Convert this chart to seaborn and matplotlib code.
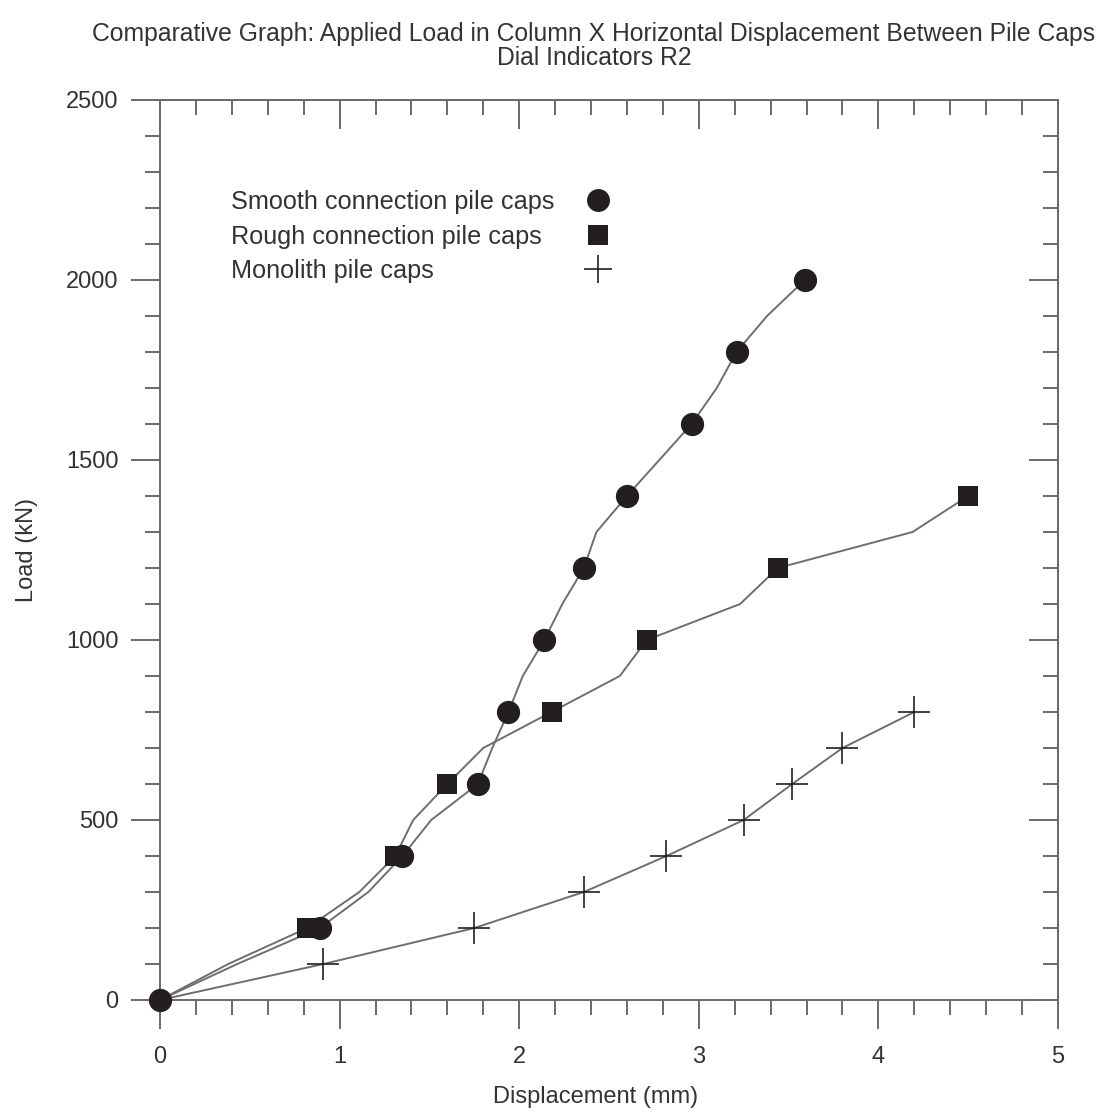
import numpy as np
import seaborn as sns
import pandas as pd
import matplotlib.pyplot as plt
from matplotlib.lines import Line2D
from matplotlib.ticker import MultipleLocator

# data (displacement in mm, load in kN)
smooth_disp = [0, 0.43, 0.89, 1.16, 1.35, 1.51, 1.77, 1.85, 1.94, 2.02, 2.14,
               2.24, 2.36, 2.43, 2.60, 2.78, 2.96, 3.10, 3.21, 3.38, 3.59]
smooth_load = [0, 100, 200, 300, 400, 500, 600, 700, 800, 900, 1000,
               1100, 1200, 1300, 1400, 1500, 1600, 1700, 1800, 1900, 2000]

rough_disp = [0, 0.38, 0.82, 1.11, 1.31, 1.41, 1.60, 1.80, 2.18, 2.56, 2.71,
              3.23, 3.44, 4.19, 4.50]
rough_load = [0, 100, 200, 300, 400, 500, 600, 700, 800, 900, 1000,
              1100, 1200, 1300, 1400]

mono_disp = [0, 0.91, 1.75, 2.36, 2.82, 3.25, 3.52, 3.80, 4.20]
mono_load = [0, 100, 200, 300, 400, 500, 600, 700, 800]

labels = ["Smooth connection pile caps", "Rough connection pile caps", "Monolith pile caps"]
title = ("Comparative Graph: Applied Load in Column X Horizontal Displacement Between Pile Caps\n"
         "Dial Indicators R2")

LINE = "#6e6e6e"
MARK = "#231f20"
AXC = "#6a6a6a"
TXT = "#333333"

sns.set_theme(style="ticks")
plt.rcParams["font.family"] = ["Liberation Sans", "DejaVu Sans"]

smooth = pd.DataFrame({"disp": smooth_disp, "load": smooth_load})
rough = pd.DataFrame({"disp": rough_disp, "load": rough_load})
mono = pd.DataFrame({"disp": mono_disp, "load": mono_load})

fig = plt.figure(figsize=(11.02, 11.2), dpi=100)
ax = fig.add_axes([160 / 1102, 1 - 1000 / 1120, 898 / 1102, 900 / 1120])

# lines through every vertex
for df in (smooth, rough, mono):
    sns.lineplot(data=df, x="disp", y="load", sort=False, estimator=None,
                 color=LINE, linewidth=1.4, ax=ax, zorder=2)

# markers (every 200 kN for smooth/rough, every point for monolith)
sns.scatterplot(data=mono.iloc[1:], x="disp", y="load", marker="+", s=540,
                color=MARK, linewidth=1.2, ax=ax, zorder=3)
sns.scatterplot(data=rough.iloc[::2].iloc[1:], x="disp", y="load", marker="s", s=200,
                color=MARK, linewidth=0, ax=ax, zorder=3)
sns.scatterplot(data=smooth.iloc[::2], x="disp", y="load", marker="o", s=280,
                color=MARK, linewidth=0, ax=ax, zorder=4, clip_on=False)

ax.set_xlim(0, 5)
ax.set_ylim(0, 2500)
ax.xaxis.set_major_locator(MultipleLocator(1))
ax.xaxis.set_minor_locator(MultipleLocator(0.2))
ax.yaxis.set_major_locator(MultipleLocator(500))
ax.yaxis.set_minor_locator(MultipleLocator(100))

ax.tick_params(which="major", direction="out", length=21, width=1.4, color=AXC,
               labelsize=17, labelcolor=TXT)
ax.tick_params(which="minor", direction="out", length=10.5, width=1.4, color=AXC)
ax.tick_params(axis="x", which="major", pad=12)
ax.tick_params(axis="y", which="major", pad=9)
for sp in ax.spines.values():
    sp.set_color(AXC)
    sp.set_linewidth(1.4)

# inward ticks on top and right
top = ax.secondary_xaxis("top")
right = ax.secondary_yaxis("right")
for sec, axis in ((top, top.xaxis), (right, right.yaxis)):
    step_major, step_minor = (1, 0.2) if sec is top else (500, 100)
    axis.set_major_locator(MultipleLocator(step_major))
    axis.set_minor_locator(MultipleLocator(step_minor))
    sec.tick_params(which="major", direction="in", length=21, width=1.4, color=AXC,
                    labelleft=False, labelright=False, labeltop=False)
    sec.tick_params(which="minor", direction="in", length=10.5, width=1.4, color=AXC)
    for sp in sec.spines.values():
        sp.set_color(AXC)
        sp.set_linewidth(1.4)

ax.set_xlabel("Displacement (mm)", fontsize=17, color=TXT)
ax.set_ylabel("Load (kN)", fontsize=17, color=TXT)
ax.xaxis.set_label_coords((596 - 160) / 898, -(1086 - 1000) / 900)
ax.yaxis.set_label_coords(-(160 - 38) / 898, 0.5)

# legend: text column on the left, marker column on the right
handles = [
    Line2D([], [], linestyle="none", marker="o", markersize=16.5, color=MARK, markeredgewidth=0),
    Line2D([], [], linestyle="none", marker="s", markersize=14, color=MARK, markeredgewidth=0),
    Line2D([], [], linestyle="none", marker="+", markersize=20, color=MARK, markeredgewidth=1.2),
]
leg_kw = dict(frameon=False, fontsize=18.2, handletextpad=0, borderpad=0,
              borderaxespad=0, labelspacing=0.42, loc="upper left")
leg_text = ax.legend(handles, labels, bbox_to_anchor=((231 - 160) / 898, (1000 - 190) / 900),
                     handlelength=0, labelcolor=TXT, **leg_kw)
for h in leg_text.legend_handles:
    h.set_visible(False)
ax.add_artist(leg_text)
ax.legend(handles, ["", "", ""], bbox_to_anchor=((587 - 160) / 898, (1000 - 190) / 900),
          handlelength=0.9, **leg_kw)

fig.text(594 / 1102, 1 - 22 / 1120, title, ha="center", va="top", fontsize=17.8,
         color=TXT, linespacing=1.0)

plt.savefig("out.png", dpi=100)
